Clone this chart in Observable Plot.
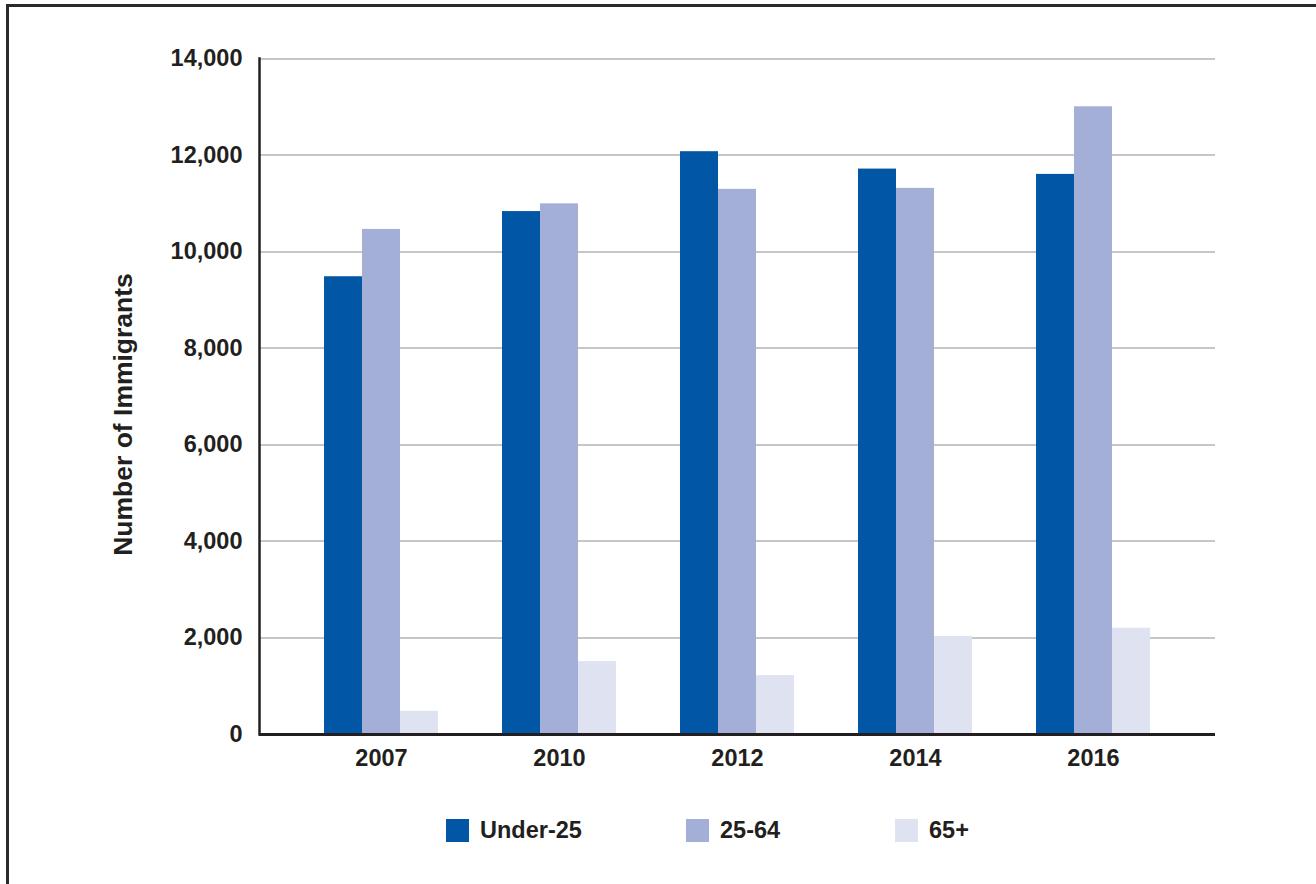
<!DOCTYPE html>
<html>
<head>
<meta charset="utf-8">
<script src="https://cdn.jsdelivr.net/npm/d3@7"></script>
<script src="https://cdn.jsdelivr.net/npm/@observablehq/plot@0.6"></script>
<style>
  html, body { margin: 0; padding: 0; background: #fff; }
  body { width: 1316px; height: 884px; position: relative; overflow: hidden;
         font-family: "Liberation Sans", Arial, Helvetica, sans-serif; color: #231f20; }
  #frame { position: absolute; left: 6px; top: 4px; width: 2000px; height: 2000px;
           border-top: 3px solid #2a2a2a; border-left: 3px solid #2a2a2a; }
  #chart { position: absolute; left: 0; top: 0; }
  #legend { position: absolute; left: 0; top: 819px; width: 1316px; height: 24px; }
  .item { position: absolute; top: 0; display: flex; align-items: center; gap: 11px;
          font-weight: bold; font-size: 23.5px; line-height: 23px; }
  .sw { width: 23px; height: 23px; display: inline-block; }
</style>
</head>
<body>
<div id="frame"></div>
<div id="chart"></div>
<div id="legend"></div>
<script>
const years = ["2007", "2010", "2012", "2014", "2016"];
const groups = ["Under-25", "25-64", "65+"];
const under25 = [9480, 10830, 12070, 11710, 11600];
const age25to64 = [10460, 10990, 11290, 11310, 13000];
const age65plus = [480, 1510, 1220, 2030, 2200];
const yTicks = [0, 2000, 4000, 6000, 8000, 10000, 12000, 14000];
const colors = ["#0156a6", "#a4afd8", "#dfe2f1"];
const yTitle = "Number of Immigrants";

const seriesValues = [under25, age25to64, age65plus];
const data = [];
years.forEach((yr, i) => {
  groups.forEach((g, j) => data.push({year: yr, group: g, value: seriesValues[j][i]}));
});

const ink = "#231f20";
const gapReach = -65; // extends per-facet rules across the gaps between year groups
const chart = Plot.plot({
  width: 1316,
  height: 790,
  marginLeft: 257,
  marginRight: 100,
  marginTop: 58,
  marginBottom: 56,
  style: {fontFamily: "'Liberation Sans', Arial, sans-serif", fontWeight: "bold", fontSize: "23px", color: ink, background: "transparent"},
  fx: {domain: years, paddingInner: 0.36, paddingOuter: 0.36, label: null},
  x: {domain: groups, padding: 0, axis: null},
  y: {domain: [0, 14000], label: null},
  color: {domain: groups, range: colors},
  marks: [
    Plot.ruleY(yTicks.slice(1), {stroke: "#c6c6c6", strokeWidth: 2, insetLeft: gapReach, insetRight: gapReach, shapeRendering: "crispEdges"}),
    Plot.barY(data, {fx: "year", x: "group", y: "value", fill: "group"}),
    Plot.ruleY([0], {stroke: ink, strokeWidth: 2.5, insetLeft: gapReach, insetRight: gapReach, shapeRendering: "crispEdges"}),
    Plot.frame({anchor: "left", facetAnchor: "left", insetLeft: gapReach, stroke: ink, strokeWidth: 2.5}),
    Plot.axisY({ticks: yTicks, tickSize: 0, tickPadding: 82, tickFormat: d3.format(","), label: null, fill: ink, fontSize: 23.5}),
    Plot.axisFx({anchor: "bottom", tickSize: 0, tickPadding: 15, label: null, fill: ink, fontSize: 23.5}),
    Plot.text([yTitle], {frameAnchor: "left", textAnchor: "middle", rotate: -90, dx: -201, dy: 18, fontSize: 26.5, fontWeight: "bold", fill: ink, facet: "super"})
  ]
});
document.getElementById("chart").appendChild(chart);

const legendX = [446, 686, 895];
const legend = document.getElementById("legend");
groups.forEach((g, i) => {
  const item = document.createElement("div");
  item.className = "item";
  item.style.left = legendX[i] + "px";
  const sw = document.createElement("span");
  sw.className = "sw";
  sw.style.background = colors[i];
  const label = document.createElement("span");
  label.textContent = g;
  item.appendChild(sw);
  item.appendChild(label);
  legend.appendChild(item);
});
</script>
</body>
</html>
